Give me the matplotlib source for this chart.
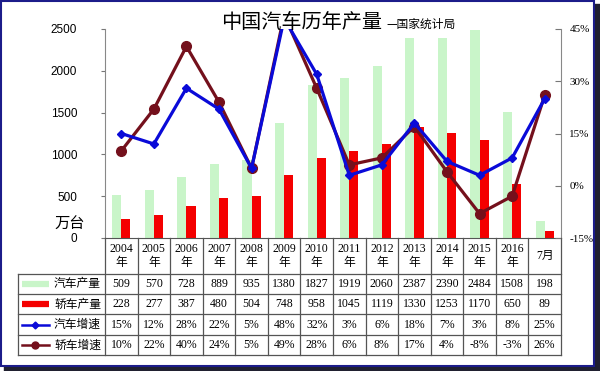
import numpy as np
import matplotlib.pyplot as plt
from matplotlib.patches import Rectangle

plt.rcParams['font.family'] = ['Noto Sans CJK SC', 'DejaVu Sans']

# data
years = ["2004\n年", "2005\n年", "2006\n年", "2007\n年", "2008\n年", "2009\n年", "2010\n年",
         "2011\n年", "2012\n年", "2013\n年", "2014\n年", "2015\n年", "2016\n年", "7月"]
car_prod = [509, 570, 728, 889, 935, 1380, 1827, 1919, 2060, 2387, 2390, 2484, 1508, 198]
sedan_prod = [228, 277, 387, 480, 504, 748, 958, 1045, 1119, 1330, 1253, 1170, 650, 89]
car_growth = [15, 12, 28, 22, 5, 48, 32, 3, 6, 18, 7, 3, 8, 25]
sedan_growth = [10, 22, 40, 24, 5, 49, 28, 6, 8, 17, 4, -8, -3, 26]
row_names = ["汽车产量", "轿车产量", "汽车增速", "轿车增速"]

green = "#c9f5c9"
red = "#f40000"
blue = "#0a0ad8"
maroon = "#74101c"
W, H = 600, 371

fig = plt.figure(figsize=(6, 3.71), dpi=100)

# frame + shadow
fig.patches.append(Rectangle((4 / W, 0), 596 / W, 6 / H, transform=fig.transFigure, color="#202030", zorder=-3))
fig.patches.append(Rectangle((594 / W, 0), 6 / W, 367 / H, transform=fig.transFigure, color="#202030", zorder=-3))
fig.patches.append(Rectangle((1 / W, 5 / H), 593 / W, 365 / H, transform=fig.transFigure,
                             facecolor="white", edgecolor="#1c1c8a", lw=1.5, zorder=-2))

x0, x1, ytop, ybot = 105, 561, 29, 238
ax = fig.add_axes([x0 / W, 1 - ybot / H, (x1 - x0) / W, (ybot - ytop) / H])
ax.patch.set_alpha(0)
n = len(car_prod)
x = np.arange(n)
bw = 0.28
ax.bar(x - bw / 2, car_prod, width=bw, color=green, zorder=1)
ax.bar(x + bw / 2, sedan_prod, width=bw, color=red, zorder=1)
ax.set_xlim(-0.5, n - 0.5)
ax.set_ylim(0, 2500)
ax.set_yticks([0, 500, 1000, 1500, 2000, 2500])
ax.tick_params(axis="y", labelsize=8.5, length=3, color="#777", pad=17)
for lab in ax.get_yticklabels():
    lab.set_fontfamily("Liberation Sans")
ax.set_xticks([])
for s in ["top", "right"]:
    ax.spines[s].set_visible(False)
ax.spines["left"].set_color("#888")
ax.spines["bottom"].set_color("#555")

ax2 = ax.twinx()
ax2.plot(x, car_growth, color=blue, lw=2.3, marker="D", ms=4, zorder=3)
ax2.plot(x, sedan_growth, color=maroon, lw=2.3, marker="o", ms=7, zorder=2)
ax2.set_ylim(-15, 45)
ax2.set_yticks([-15, 0, 15, 30, 45])
ax2.set_yticklabels(["-15%", "0%", "15%", "30%", "45%"], fontfamily="Liberation Serif")
ax2.tick_params(axis="y", labelsize=8, length=4, direction="in", color="#777", pad=6)
for s in ["top", "left", "bottom"]:
    ax2.spines[s].set_visible(False)
ax2.spines["right"].set_color("#888")

fig.text(302 / W, 1 - 22 / H, "中国汽车历年产量", fontsize=14.5, ha="center", va="center")
fig.text(386 / W, 1 - 24 / H, "—国家统计局", fontsize=8.5, ha="left", va="center")
fig.text(70 / W, 1 - 224 / H, "万台", fontsize=11, ha="center", va="center")

# data table
tx0, tx1, ty0, ty1 = 18, 561, 238, 356
tab = fig.add_axes([tx0 / W, 1 - ty1 / H, (tx1 - tx0) / W, (ty1 - ty0) / H])
tab.axis("off")
left = -0.5 - (x0 - tx0) / ((x1 - x0) / n)
tab.set_xlim(left, n - 0.5)
tab.set_ylim(ty1, ty0)
rows_y = [274, 294, 314, 335, 355]
lc = "#555"
for yy in rows_y:
    tab.plot([left, n - 0.5], [yy, yy], color=lc, lw=0.9, clip_on=False)
for i in range(n + 1):
    tab.plot([i - 0.5, i - 0.5], [ty0, rows_y[-1]], color=lc, lw=0.9, clip_on=False)
tab.plot([left, left], [rows_y[0], rows_y[-1]], color=lc, lw=0.9, clip_on=False)

for i, yl in enumerate(years):
    tab.text(i, 256, yl, ha="center", va="center", fontsize=8.5, linespacing=1.15,
             family=["Liberation Serif", "Noto Sans CJK SC"])

car_growth_txt = [f"{v}%" for v in car_growth]
sedan_growth_txt = [f"{v}%" for v in sedan_growth]
row_vals = [car_prod, sedan_prod, car_growth_txt, sedan_growth_txt]
for r, vals in enumerate(row_vals):
    yc = (rows_y[r] + rows_y[r + 1]) / 2
    for i, v in enumerate(vals):
        tab.text(i, yc, str(v), ha="center", va="center", fontsize=8.5, family="Liberation Serif")
    tab.text(-0.62, yc, row_names[r], ha="right", va="center", fontsize=8.5)

kx = [left + 0.12, left + 0.95]
kc = (kx[0] + kx[1]) / 2
tab.plot(kx, [284, 284], color=green, lw=4.5, solid_capstyle="butt")
tab.plot(kx, [304, 304], color=red, lw=4.5, solid_capstyle="butt")
tab.plot(kx, [324.5, 324.5], color=blue, lw=1.8)
tab.plot([kc], [324.5], color=blue, marker="D", ms=3.5)
tab.plot(kx, [345, 345], color=maroon, lw=1.8)
tab.plot([kc], [345], color=maroon, marker="o", ms=5)

fig.savefig("out.png", dpi=100)
